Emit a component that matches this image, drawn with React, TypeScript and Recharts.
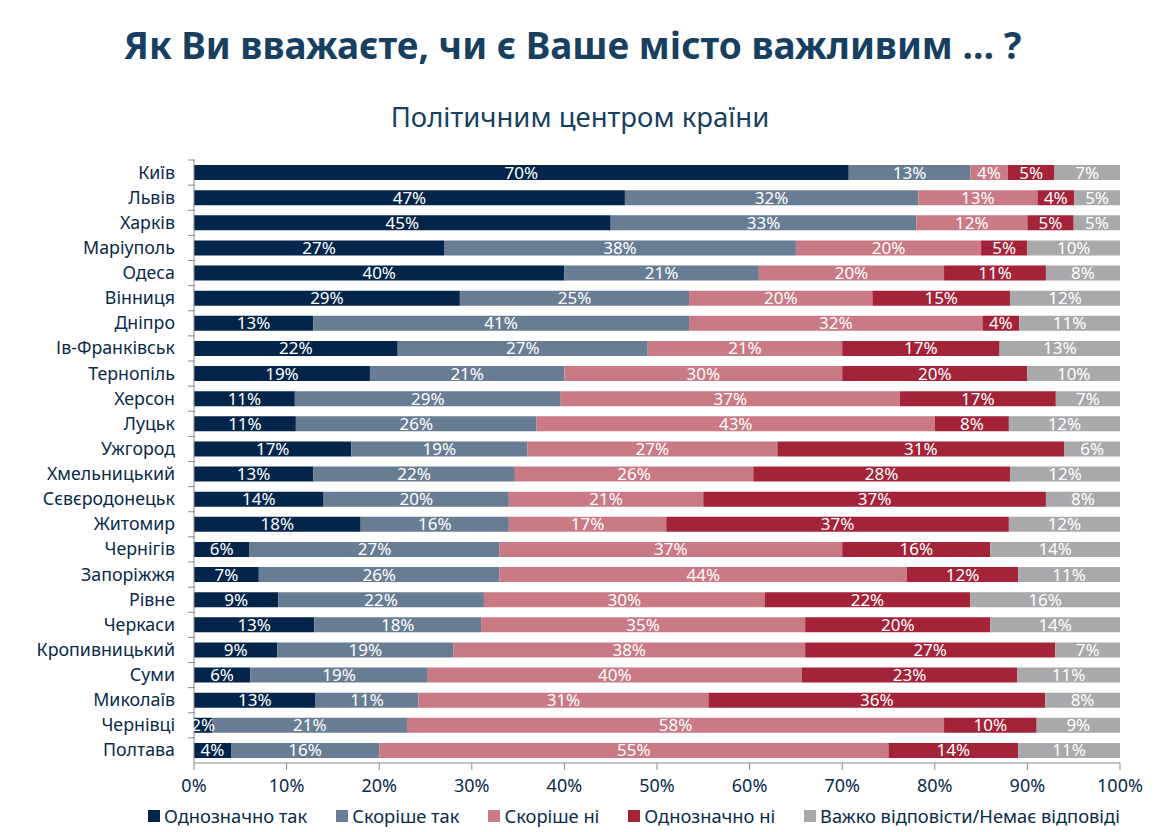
import React from "react";
import { BarChart, Bar, XAxis, YAxis, LabelList } from "recharts";

const cities = [
  "Київ", "Львів", "Харків", "Маріуполь", "Одеса", "Вінниця", "Дніпро", "Ів-Франківськ",
  "Тернопіль", "Херсон", "Луцьк", "Ужгород", "Хмельницький", "Сєвєродонецьк", "Житомир",
  "Чернігів", "Запоріжжя", "Рівне", "Черкаси", "Кропивницький", "Суми", "Миколаїв",
  "Чернівці", "Полтава",
];

const definitelyYes = [70, 47, 45, 27, 40, 29, 13, 22, 19, 11, 11, 17, 13, 14, 18, 6, 7, 9, 13, 9, 6, 13, 2, 4];
const ratherYes = [13, 32, 33, 38, 21, 25, 41, 27, 21, 29, 26, 19, 22, 20, 16, 27, 26, 22, 18, 19, 19, 11, 21, 16];
const ratherNo = [4, 13, 12, 20, 20, 20, 32, 21, 30, 37, 43, 27, 26, 21, 17, 37, 44, 30, 35, 38, 40, 31, 58, 55];
const definitelyNo = [5, 4, 5, 5, 11, 15, 4, 17, 20, 17, 8, 31, 28, 37, 37, 16, 12, 22, 20, 27, 23, 36, 10, 14];
const noAnswer = [7, 5, 5, 10, 8, 12, 11, 13, 10, 7, 12, 6, 12, 8, 12, 14, 11, 16, 14, 7, 11, 8, 9, 11];

const xTicks = [0, 0.1, 0.2, 0.3, 0.4, 0.5, 0.6, 0.7, 0.8, 0.9, 1];

const series = [
  { key: "yes", name: "Однозначно так", color: "#03254a", values: definitelyYes },
  { key: "ratherYes", name: "Скоріше так", color: "#687d93", values: ratherYes },
  { key: "ratherNo", name: "Скоріше ні", color: "#c97a84", values: ratherNo },
  { key: "no", name: "Однозначно ні", color: "#a32338", values: definitelyNo },
  { key: "na", name: "Важко відповісти/Немає відповіді", color: "#a9a9ab", values: noAnswer },
];

const data = cities.map((city, i) => {
  const row: Record<string, string | number> = { city };
  series.forEach((s) => (row[s.key] = s.values[i]));
  return row;
});

const FONT = "'Noto Sans', sans-serif";
const NAVY = "#173f5f";
const INK = "#0a2a4a";

// category label plus a short tick on the band boundary above it
const CityTick = (props: any) => {
  const { x, y, payload } = props;
  const half = payload.offset || 12.5;
  return (
    <g>
      <line x1={x + 2} x2={x + 9} y1={y - half} y2={y - half} stroke="#8a8a8a" />
      <text x={x - 11} y={y} dy={6} textAnchor="end" fill={INK} fontSize={17.8} fontFamily={FONT}>
        {payload.value}
      </text>
    </g>
  );
};

export default function App() {
  return (
    <div style={{ position: "absolute", left: 0, top: 0, width: 1157, height: 832, background: "#fff", fontFamily: FONT }}>
      <div style={{ position: "absolute", top: 19, left: 0, width: 1145, textAlign: "center", fontSize: 37, fontWeight: 700, color: NAVY }}>
        Як Ви вважаєте, чи є Ваше місто важливим … ?
      </div>
      <div style={{ position: "absolute", top: 98, left: 0, width: 1160, textAlign: "center", fontSize: 27.5, color: NAVY }}>
        Політичним центром країни
      </div>
      <div style={{ position: "absolute", left: 0, top: 0 }}>
        <BarChart
          width={1157}
          height={803}
          data={data}
          layout="vertical"
          stackOffset="expand"
          barCategoryGap="20%"
          margin={{ top: 160, right: 37, left: 74, bottom: 8 }}
        >
          <XAxis
            type="number"
            domain={[0, 1]}
            ticks={xTicks}
            tickFormatter={(v: number) => `${Math.round(v * 100)}%`}
            stroke="#8a8a8a"
            tickSize={7}
            tickMargin={9}
            tick={{ fill: INK, fontSize: 18, fontFamily: FONT }}
            height={32}
          />
          <YAxis
            type="category"
            dataKey="city"
            width={120}
            stroke="#8a8a8a"
            tickLine={false}
            tick={<CityTick />}
          />
          {series.map((s) => (
            <Bar key={s.key} dataKey={s.key} name={s.name} stackId="a" fill={s.color} isAnimationActive={false}>
              <LabelList
                dataKey={s.key}
                position="center"
                formatter={(v: any) => `${v}%`}
                fill="#ffffff"
                fontSize={17}
                fontFamily={FONT}
              />
            </Bar>
          ))}
        </BarChart>
      </div>
      <div style={{ position: "absolute", top: 803, left: 148, display: "flex", gap: 29, fontSize: 18.3, color: INK }}>
        {series.map((s) => (
          <div key={s.key} style={{ display: "flex", alignItems: "center", gap: 4 }}>
            <span style={{ display: "inline-block", width: 12, height: 12, background: s.color }} />
            <span>{s.name}</span>
          </div>
        ))}
      </div>
    </div>
  );
}
